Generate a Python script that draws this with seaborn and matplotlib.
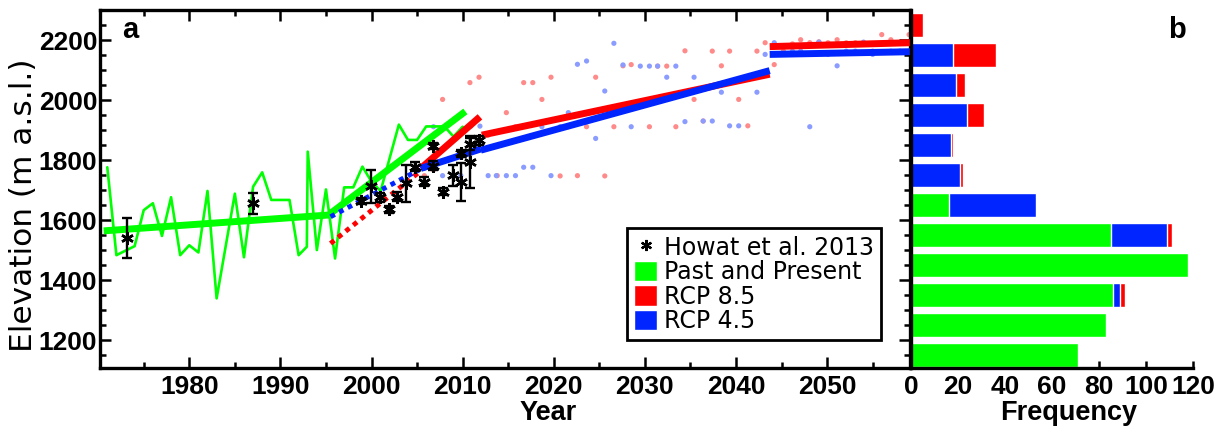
import numpy as np
import matplotlib
matplotlib.use("Agg")
import matplotlib.pyplot as plt
import seaborn as sns
from matplotlib.lines import Line2D
from matplotlib.patches import Patch
from matplotlib.ticker import MultipleLocator

# --- data ---
# yearly elevation (past and present)
green_years = [1971, 1972, 1974, 1975, 1976, 1977, 1978, 1979, 1980, 1981, 1982, 1983,
               1985, 1986, 1987, 1988, 1989, 1991, 1992, 1992.9, 1993, 1994, 1995, 1996,
               1997, 1998, 1999, 2000, 2001, 2003, 2004, 2005, 2006, 2008, 2009, 2010]
green_elev = [1776, 1483, 1513, 1633, 1656, 1547, 1676, 1483, 1516, 1492, 1697, 1339,
              1688, 1476, 1711, 1759, 1667, 1667, 1483, 1511, 1828, 1500, 1702, 1472,
              1709, 1709, 1778, 1728, 1697, 1918, 1867, 1867, 1912, 1912, 1878, 1911]

# Howat et al. 2013
howat_years = [1973.2, 1987.0, 1998.9, 1999.9, 2000.9, 2001.9, 2002.8, 2003.8, 2004.8, 2005.8,
               2006.8, 2006.8, 2007.8, 2008.9, 2009.8, 2009.8, 2010.8, 2010.8, 2011.8]
howat_elev = [1539, 1656, 1665, 1712, 1676, 1636, 1678, 1722, 1778, 1728,
              1847, 1781, 1694, 1750, 1822, 1726, 1852, 1794, 1866]
howat_err = [67, 35, 10, 56, 15, 12, 15, 62, 15, 15, 10, 15, 12, 35, 12, 63, 20, 86, 15]

# trend lines (start, end)
past_fit1_x, past_fit1_y = [1970.6, 1995.4], [1564, 1617]
past_fit2_x, past_fit2_y = [1995.4, 2010.3], [1620, 1962]
rcp85_dot_x, rcp85_dot_y = [1995.5, 2005.4], [1522, 1764]
rcp45_dot_x, rcp45_dot_y = [1995.5, 2005.2], [1611, 1767]
rcp85_fit1_x, rcp85_fit1_y = [2005.4, 2011.9], [1772, 1944]
rcp45_fit1_x, rcp45_fit1_y = [2005.4, 2012.0], [1772, 1837]
rcp85_fit2_x, rcp85_fit2_y = [2012.1, 2043.7], [1883, 2086]
rcp45_fit2_x, rcp45_fit2_y = [2012.0, 2043.7], [1833, 2098]
rcp85_fit3_x, rcp85_fit3_y = [2043.7, 2059.2], [2178, 2191]
rcp45_fit3_x, rcp45_fit3_y = [2043.7, 2059.2], [2152, 2161]

# yearly projected elevations
red_dot_years = [2005.8, 2006.8, 2007.8, 2010.8, 2011.8, 2012.8, 2013.8, 2014.8, 2015.8, 2016.7,
                 2017.7, 2018.7, 2019.7, 2020.7, 2021.6, 2022.6, 2023.6, 2024.6, 2025.6, 2026.6,
                 2027.6, 2028.5, 2030.5, 2031.4, 2032.4, 2033.4, 2034.4, 2035.4, 2036.4, 2037.4,
                 2038.4, 2039.3, 2040.3, 2041.3, 2042.3, 2043.2, 2044.2, 2045.2, 2046.2, 2047.1,
                 2048.1, 2049.1, 2050.1, 2051.1, 2052.1, 2053.1, 2054.0, 2055.0, 2056.0, 2057.0,
                 2059.0]
red_dot_elev = [1748, 1767, 2002, 2058, 2076, 1883, 1748, 1958, 1911, 2058,
                2058, 2002, 2076, 1747, 1911, 1748, 1911, 2076, 1747, 1911,
                2114, 2118, 1911, 2113, 2113, 1911, 2164, 2002, 1930, 2163,
                2114, 2163, 2002, 1914, 2163, 2191, 2118, 2163, 2187, 2201,
                2191, 2194, 2191, 2201, 2191, 2191, 2191, 2163, 2218, 2201,
                2218]
blue_dot_years = [2005.8, 2006.8, 2007.8, 2008.9, 2009.8, 2010.9, 2011.9, 2012.8, 2013.7, 2014.8,
                  2015.8, 2016.7, 2017.7, 2018.7, 2019.7, 2020.7, 2021.6, 2022.6, 2023.6, 2024.6,
                  2025.6, 2026.6, 2027.6, 2028.5, 2029.5, 2030.5, 2031.4, 2032.4, 2033.4, 2034.4,
                  2035.4, 2036.4, 2037.4, 2038.4, 2039.3, 2040.3, 2041.3, 2042.3, 2043.2, 2044.2,
                  2046.2, 2047.1, 2048.1, 2049.1, 2050.1, 2051.1, 2052.1, 2053.1, 2054.0, 2055.0,
                  2056.0, 2057.0, 2058.0]
blue_dot_elev = [1772, 1911, 1748, 1748, 1748, 1913, 1913, 1748, 1748, 1748,
                 1748, 1776, 1776, 1911, 1748, 1911, 1958, 2119, 2130, 1872,
                 2030, 2189, 2117, 1911, 2113, 2113, 2113, 2076, 2113, 1928,
                 2076, 1930, 1930, 2026, 1914, 1914, 2078, 2026, 2152, 2191,
                 2163, 2163, 1911, 2193, 2152, 2114, 2163, 2163, 2193, 2152,
                 2188, 2163, 2163]

# histogram (b)
bin_centers = [1150, 1250, 1350, 1450, 1550, 1650, 1750, 1850, 1950, 2050, 2150, 2250]
green_counts = [71, 83, 86, 118, 85, 16, 0, 0, 0, 0, 0, 0]
blue_counts = [0, 0, 3, 0, 24, 37, 21, 17, 24, 19, 18, 0]
red_counts = [0, 0, 2, 0, 2, 0, 1, 1, 7, 4, 18, 5]

year_ticks = [1980, 1990, 2000, 2010, 2020, 2030, 2040, 2050]
elev_ticks = [1200, 1400, 1600, 1800, 2000, 2200]
freq_ticks = [0, 20, 40, 60, 80, 100, 120]

GREEN = '#00ff00'
RED = '#ff0000'
BLUE = '#0025ff'
LRED = '#ff8a8a'
LBLUE = '#8a9cff'

sns.set_style("ticks")
plt.rcParams['font.family'] = ['Liberation Sans', 'DejaVu Sans']
plt.rcParams.update({'text.color': 'k', 'axes.labelcolor': 'k', 'xtick.color': 'k',
                     'ytick.color': 'k', 'axes.edgecolor': 'k'})

fig = plt.figure(figsize=(12.26, 4.30), dpi=100)
ax = fig.add_axes([100/1226, 62/430, 810/1226, 358/430])
axb = fig.add_axes([911/1226, 62/430, 282/1226, 358/430])

# ---- panel a ----
sns.scatterplot(x=red_dot_years, y=red_dot_elev, color=LRED, s=14, edgecolor='none', ax=ax, zorder=1)
sns.scatterplot(x=blue_dot_years, y=blue_dot_elev, color=LBLUE, s=14, edgecolor='none', ax=ax, zorder=1)

sns.lineplot(x=green_years, y=green_elev, color=GREEN, lw=1.9, estimator=None, sort=False, ax=ax, zorder=2)

ax.plot(past_fit1_x, past_fit1_y, color=GREEN, lw=5, solid_capstyle='butt', zorder=3)
ax.plot(past_fit2_x, past_fit2_y, color=GREEN, lw=5, solid_capstyle='butt', zorder=3)
ax.plot(rcp85_dot_x, rcp85_dot_y, color=RED, lw=3.5, ls=(0, (1, 1)), zorder=3)
ax.plot(rcp45_dot_x, rcp45_dot_y, color=BLUE, lw=3.5, ls=(0, (1, 1)), zorder=3)
for xs, ys, c in [(rcp85_fit1_x, rcp85_fit1_y, RED), (rcp45_fit1_x, rcp45_fit1_y, BLUE),
                  (rcp85_fit2_x, rcp85_fit2_y, RED), (rcp45_fit2_x, rcp45_fit2_y, BLUE),
                  (rcp85_fit3_x, rcp85_fit3_y, RED), (rcp45_fit3_x, rcp45_fit3_y, BLUE)]:
    ax.plot(xs, ys, color=c, lw=5, solid_capstyle='butt', zorder=3)

ax.errorbar(howat_years, howat_elev, yerr=howat_err, fmt='none', ecolor='k',
            elinewidth=1.7, capsize=3.5, capthick=1.7, zorder=4)
ax.plot(howat_years, howat_elev, ls='none', marker=(6, 2, 0), color='k', ms=9, mew=1.8, zorder=5)

ax.set_xlim(1970.2, 2059.1)
ax.set_ylim(1107, 2300)
ax.set_xticks(year_ticks)
ax.set_xticklabels([str(t) for t in year_ticks], fontweight='bold')
ax.set_yticks(elev_ticks)
ax.set_yticklabels([str(t) for t in elev_ticks], fontweight='bold')
ax.xaxis.set_minor_locator(MultipleLocator(5))
ax.yaxis.set_minor_locator(MultipleLocator(50))
ax.tick_params(which='both', direction='in', top=True, right=True, width=1.8, labelsize=19)
ax.tick_params(which='major', length=8)
ax.tick_params(which='minor', length=4.5)
ax.tick_params(axis='x', pad=5)
ax.tick_params(axis='y', pad=2)
for s in ax.spines.values():
    s.set_linewidth(2.4)

ax.set_xlabel('Year', fontsize=19.5, fontweight='bold')
ax.xaxis.set_label_coords(0.553, -0.09)
ax.set_ylabel('Elevation (m a.s.l.)', fontsize=22.5, family='DejaVu Sans')
ax.yaxis.set_label_coords(-0.077, 0.455)

ax.text(0.027, 0.922, 'a', transform=ax.transAxes, fontsize=21, fontweight='bold', va='baseline')

handles = [Line2D([], [], ls='none', marker=(6, 2, 0), color='k', ms=8, mew=1.6),
           Patch(facecolor=GREEN), Patch(facecolor=RED), Patch(facecolor=BLUE)]
labels = ['Howat et al. 2013', 'Past and Present', 'RCP 8.5', 'RCP 4.5']
leg = ax.legend(handles, labels, loc='lower left', bbox_to_anchor=(0.651, 0.078),
                prop={'family': 'DejaVu Sans', 'size': 17},
                frameon=True, fancybox=False, edgecolor='k', framealpha=1, borderaxespad=0,
                handlelength=0.95, handleheight=0.95, handletextpad=0.3, labelspacing=0.02,
                borderpad=0.3)
leg.get_frame().set_linewidth(2)

# ---- panel b ----
green_arr = np.array(green_counts)
blue_cum = green_arr + np.array(blue_counts)
red_cum = blue_cum + np.array(red_counts)
sns.barplot(x=red_cum, y=bin_centers, orient='h', native_scale=True, color=RED, width=0.8,
            errorbar=None, saturation=1, ax=axb)
sns.barplot(x=blue_cum, y=bin_centers, orient='h', native_scale=True, color=BLUE, width=0.8,
            errorbar=None, saturation=1, ax=axb)
sns.barplot(x=green_arr, y=bin_centers, orient='h', native_scale=True, color=GREEN, width=0.8,
            errorbar=None, saturation=1, ax=axb)

axb.set_ylim(1107, 2300)
axb.set_xlim(0, 120)
axb.set_yticks([])
axb.set_ylabel('')
axb.set_xticks(freq_ticks)
axb.set_xticklabels([str(t) for t in freq_ticks], fontweight='bold')
axb.tick_params(axis='x', direction='in', length=5, width=1.8, labelsize=19, pad=5)
sns.despine(ax=axb)
for s in ['left', 'bottom']:
    axb.spines[s].set_linewidth(2.4)
axb.set_xlabel('Frequency', fontsize=19.5, fontweight='bold')
axb.xaxis.set_label_coords(0.56, -0.09)

fig.text(1168/1226, (430-38)/430, 'b', fontsize=21, fontweight='bold', va='baseline')

fig.savefig('out.png', dpi=100)
